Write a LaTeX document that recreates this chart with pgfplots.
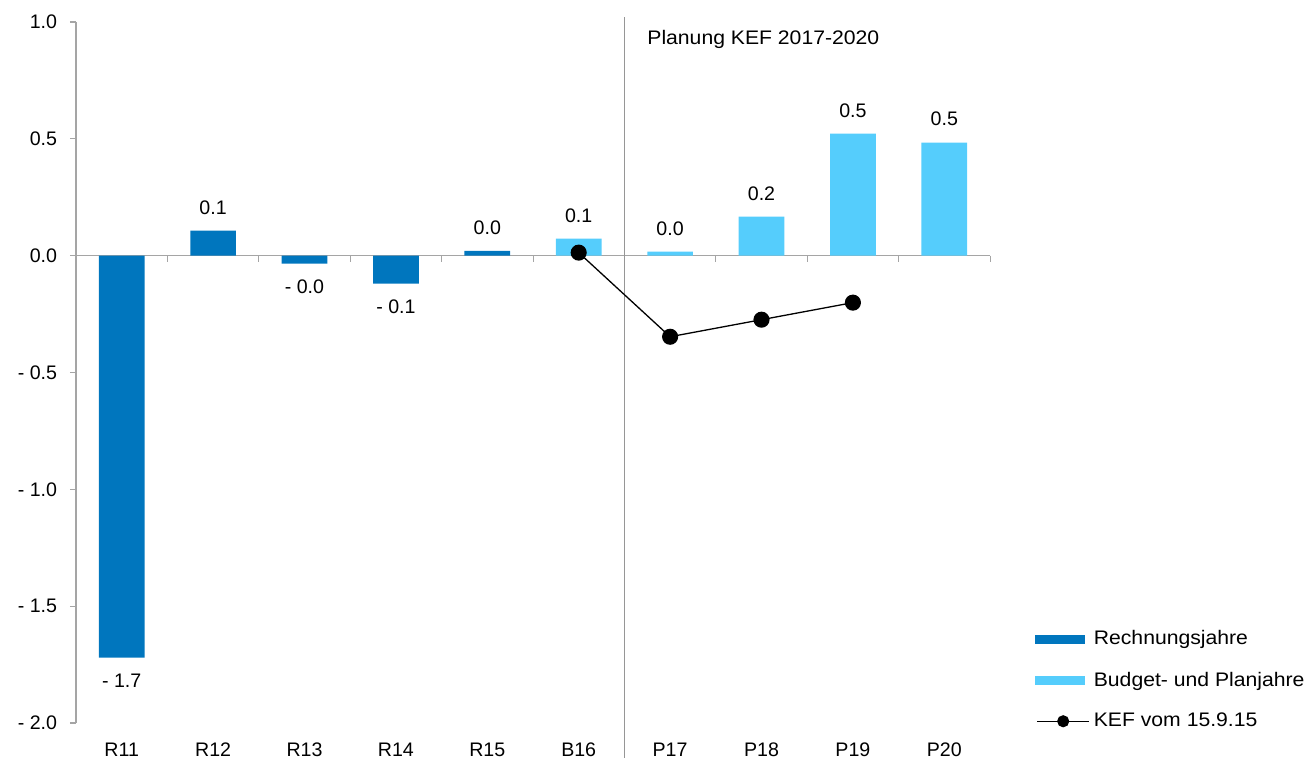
\documentclass[border=0pt]{standalone}
\usepackage{pgfplots}
\pgfplotsset{compat=1.18}
\usepackage{pgfplotstable}
\usepackage{fontspec}
\setmainfont{Liberation Sans}
\newfontfamily\widefont{Liberation Sans}[FakeStretch=1.08]
\definecolor{rech}{RGB}{0,118,190}
\definecolor{plan}{RGB}{85,205,252}
\definecolor{axgray}{RGB}{165,165,165}
\definecolor{sepgray}{RGB}{150,150,150}

\pgfplotstableread[col sep=comma]{
x,y,label
1,0.107,0.1
4,0.02,0.0
}\rechpos
\pgfplotstableread[col sep=comma]{
x,y,label
0,-1.72,- 1.7
2,-0.034,- 0.0
3,-0.12,- 0.1
}\rechneg
\pgfplotstableread[col sep=comma]{
x,y,label
5,0.073,0.1
6,0.017,0.0
7,0.167,0.2
8,0.522,0.5
9,0.484,0.5
}\plantab
\pgfplotstableread[col sep=comma]{
x,y
5,0.013
6,-0.347
7,-0.274
8,-0.201
}\keftab

\begin{document}
\fontsize{9.8}{11.6}\selectfont
\begin{tikzpicture}
\path[use as bounding box] (-38pt,-17.5pt) rectangle (616.5pt,361.5pt);
\begin{axis}[
  at={(0,0)}, anchor=south west,
  scale only axis, width=457pt, height=350.5pt,
  xmin=-0.5, xmax=9.5, ymin=-2, ymax=1,
  clip=false,
  axis lines*=left,
  x axis line style={draw=none},
  y axis line style={axgray, line width=0.6pt},
  tick align=outside,
  major tick length=3pt,
  x tick style={draw=none},
  y tick style={axgray, line width=0.6pt},
  xtick={0,...,9},
  xticklabels={R11,R12,R13,R14,R15,B16,P17,P18,P19,P20},
  ytick={-2,-1.5,-1,-0.5,0,0.5,1},
  yticklabels={- 2.0,- 1.5,- 1.0,- 0.5,0.0,0.5,1.0},
  tick label style={font=\fontsize{9.8}{11.6}\selectfont},
  x tick label style={yshift=-3.5pt},
  y tick label style={xshift=-3pt},
  legend style={at={(1.049,0.138)}, anchor=north west, draw=none, fill=none,
    inner sep=0pt, row sep=8pt, font=\fontsize{9.8}{11.4}\widefont,
    cells={anchor=west}},
  legend cell align=left,
]
\draw[axgray, line width=0.6pt] (axis cs:-0.5,0) -- (axis cs:9.5,0);
\pgfplotsinvokeforeach{0.5,1.5,2.5,3.5,4.5,5.5,6.5,7.5,8.5,9.5}{
  \draw[axgray, line width=0.5pt] (axis cs:#1,0) -- ([yshift=-3pt]axis cs:#1,0);
}
\draw[sepgray, line width=0.5pt] (axis cs:5.5,1.021) -- (axis cs:5.5,-2.15);
\node[anchor=west, inner sep=0pt, font=\fontsize{9.8}{11.4}\widefont] at (axis cs:5.747,0.924) {Planung KEF 2017-2020};

\addplot[ybar, bar width=0.5, bar shift=0pt, fill=rech, draw=none,
  nodes near coords, point meta=explicit symbolic,
  every node near coord/.append style={anchor=south, inner sep=8pt, text=black, font=\fontsize{9.8}{11.6}\selectfont},
  legend image code/.code={\fill[rech] (0pt,-2.2pt) rectangle (25pt,2.2pt);}]
  table[x=x, y=y, meta=label] {\rechpos};
\addlegendentry{Rechnungsjahre}
\addplot[ybar, bar width=0.5, bar shift=0pt, fill=plan, draw=none,
  nodes near coords, point meta=explicit symbolic,
  every node near coord/.append style={anchor=south, inner sep=8pt, text=black, font=\fontsize{9.8}{11.6}\selectfont},
  legend image code/.code={\fill[plan] (0pt,-2.2pt) rectangle (25pt,2.2pt);}]
  table[x=x, y=y, meta=label] {\plantab};
\addlegendentry{Budget- und Planjahre}
\addplot[black, line width=0.65pt, mark=*, mark size=3.7pt, mark options={fill=black},
  legend image code/.code={\draw[black, line width=0.65pt, mark=*, mark options={fill=black}, mark size=2.7pt, mark repeat=2, mark phase=2] plot coordinates {(1pt,0pt) (14pt,0pt) (27pt,0pt)};}]
  table[x=x, y=y] {\keftab};
\addlegendentry{KEF vom 15.9.15}
\addplot[forget plot, ybar, bar width=0.5, bar shift=0pt, fill=rech, draw=none,
  nodes near coords, point meta=explicit symbolic,
  every node near coord/.append style={anchor=north, inner sep=8pt, text=black, font=\fontsize{9.8}{11.6}\selectfont}]
  table[x=x, y=y, meta=label] {\rechneg};
\end{axis}
\end{tikzpicture}
\end{document}
